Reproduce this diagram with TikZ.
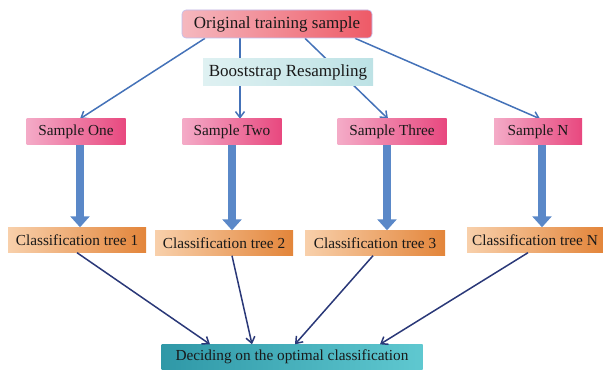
\documentclass[tikz,border=0pt]{standalone}
\usepackage{fontspec}
\setmainfont{Liberation Serif}
\usetikzlibrary{arrows.meta,backgrounds,calc}

\definecolor{origL}{HTML}{F5B8BF}
\definecolor{origR}{HTML}{EE5A67}
\definecolor{bootL}{HTML}{DFF1F2}
\definecolor{bootR}{HTML}{BDE2E5}
\definecolor{sampL}{HTML}{F4ABC7}
\definecolor{sampR}{HTML}{E8487F}
\definecolor{treeL}{HTML}{F8D0AB}
\definecolor{treeR}{HTML}{E3853A}
\definecolor{decL}{HTML}{2F98A7}
\definecolor{decR}{HTML}{5FC8D0}
\definecolor{thinblue}{HTML}{4472B8}
\definecolor{fatblue}{HTML}{5A88C8}
\definecolor{navy}{HTML}{2A3878}

\begin{document}
\begin{tikzpicture}
                    [x=1pt,y=-1pt,
                    box/.style={inner sep=0pt,text=black!90,font=\fontsize{15.3}{18}\selectfont},
                    orig/.style={box,rounded corners=4pt,draw=black!25!blue!25,line width=0.6pt,left color=origL,right color=origR,font=\fontsize{17}{20}\selectfont},
                    boot/.style={box,left color=bootL,right color=bootR,font=\fontsize{17}{20}\selectfont},
                    sample/.style={box,minimum height=26pt,left color=sampL,right color=sampR},
                    tree/.style={box,minimum height=25pt,left color=treeL,right color=treeR},
                    decide/.style={box,minimum height=25pt,left color=decL,right color=decR},
                    thin/.style={thinblue,line width=1.5pt,-{Straight Barb[length=6pt,width=9pt]}},
                    fat/.style={fatblue,line width=8pt,-{Triangle[length=11pt,width=19pt]}},
                    vote/.style={navy,line width=1.5pt,-{Straight Barb[length=6pt,width=9pt]}}]

                \useasboundingbox (0,0) rectangle (603,371);

                % top
                \node[orig,minimum width=190pt,minimum height=28pt] (orig) at (277,24) {Original training sample};
                \node[boot,minimum width=170pt,minimum height=27pt] (boot) at (288,72) {Booststrap Resampling};

                % samples
                \node[sample,minimum width=99pt] (s1) at (76,132) {Sample One};
                \node[sample,minimum width=99pt] (s2) at (232,132) {Sample Two};
                \node[sample,minimum width=109pt] (s3) at (392,132) {Sample Three};
                \node[sample,minimum width=88pt] (sn) at (538,132) {Sample N};

                % trees
                \node[tree,minimum width=138pt] (t1) at (77,240) {Classification tree 1};
                \node[tree,minimum width=138pt] (t2) at (224,243) {Classification tree 2};
                \node[tree,minimum width=140pt] (t3) at (375,243) {Classification tree 3};
                \node[tree,minimum width=136pt] (tn) at (535,240) {Classification tree N};

                \node[decide,minimum width=261pt] (dec) at (292,357) {Deciding on the optimal classification};

                \begin{scope}[on background layer]
                    \draw[thin] ($(orig.south)+(-72,0)$) -- ($(s1.north)+(4,0)$);
                    \draw[thin] ($(orig.south)+(-37,0)$) -- ($(s2.north)+(8,0)$);
                    \draw[thin] ($(orig.south)+(28,0)$) -- ($(s3.north)+(-4,0)$);
                    \draw[thin] ($(orig.south)+(78,0)$) -- ($(sn.north)+(2,0)$);
                \end{scope}

                \draw[fat] ([xshift=4pt]s1.south) -- ([xshift=4pt]s1.south |- t1.north);
                \draw[fat] (s2.south) -- (s2.south |- t2.north);
                \draw[fat] ([xshift=-5pt]s3.south) -- ([xshift=-5pt]s3.south |- t3.north);
                \draw[fat] ([xshift=4pt]sn.south) -- ([xshift=4pt]sn.south |- tn.north);

                \draw[vote] (t1.south) -- ($(dec.north)+(-82,0)$);
                \draw[vote] ($(t2.south)+(8,0)$) -- ($(dec.north)+(-40,0)$);
                \draw[vote] ($(t3.south)+(-2,0)$) -- ($(dec.north)+(3,0)$);
                \draw[vote] ($(tn.south)+(-7,0)$) -- ($(dec.north)+(88,0)$);

                \end{tikzpicture}
\end{document}
